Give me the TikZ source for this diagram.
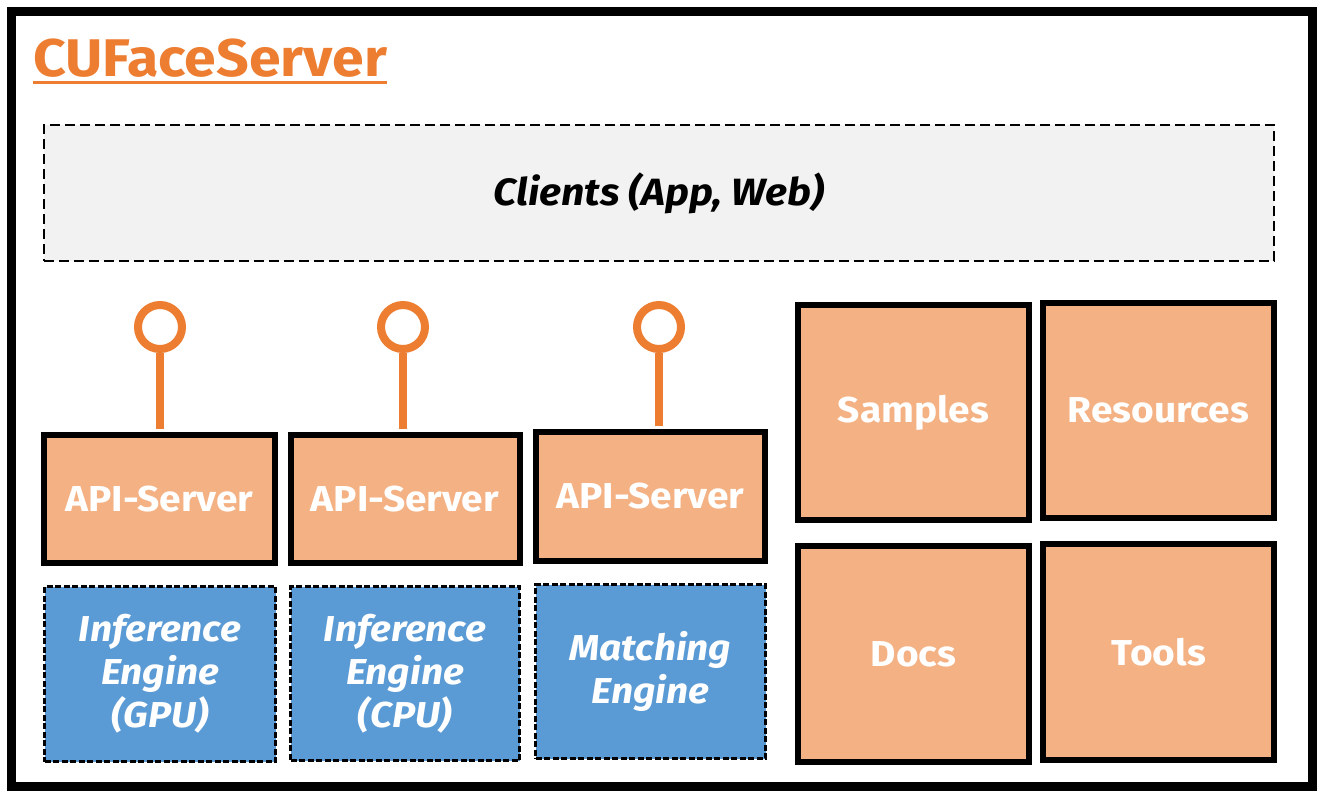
\documentclass[tikz,border=0pt]{standalone}
\usepackage{fontspec}
\setmainfont{Fira Sans}[FakeStretch=1.08]
\definecolor{accent}{HTML}{ED7D31}
\definecolor{lightorange}{HTML}{F4B183}
\definecolor{blueeng}{HTML}{5B9BD5}
\definecolor{clientgray}{HTML}{F2F2F2}
\begin{document}
\begin{tikzpicture}[x=1pt,y=-1pt,
  solidbox/.style={draw=black, line width=6pt, fill=lightorange, inner sep=0pt,
    text=white, font=\fontsize{36}{42}\selectfont\bfseries, align=center},
  engbox/.style={draw=black, line width=2.6pt, dash pattern=on 6pt off 2.5pt, fill=blueeng, inner sep=0pt,
    text=white, font=\fontsize{36}{43}\selectfont\bfseries\itshape, align=center},
  pin/.style={circle, draw=accent, line width=8pt, fill=white, minimum size=44pt, inner sep=0pt},
  stem/.style={draw=accent, line width=8pt}
]
\useasboundingbox (0,0) rectangle (1327,803);
\fill[white] (0,0) rectangle (1327,803);
\draw[line width=9pt] (11.5,11.5) rectangle (1312.5,786);

% title
\node[anchor=base west, inner sep=0pt, text=accent, font=\fontsize{53}{60}\selectfont\bfseries] (title) at (33,76) {CUFaceServer};
\draw[accent, line width=3pt] (title.base west) ++(0,6) coordinate (ul1) -- (title.base east |- ul1) coordinate (ul2);

% clients
\node[draw=black, line width=2.6pt, dash pattern=on 10pt off 5pt, fill=clientgray, minimum width=1230pt, minimum height=136pt, inner sep=0pt,
  font=\fontsize{38}{44}\selectfont\bfseries\itshape] (clients) at (659,193) {Clients (App, Web)};

% API servers
\node[solidbox, minimum width=231pt, minimum height=128pt] (api1) at (159.5,499) {API-Server};
\node[solidbox, minimum width=229pt, minimum height=128pt] (api2) at (405,499) {API-Server};
\node[solidbox, minimum width=229pt, minimum height=129pt] (api3) at (650.5,496.5) {API-Server};

% pins
\node[pin] (p1) at (160,327) {};
\node[pin] (p2) at (403,327) {};
\node[pin] (p3) at (659,327) {};
\draw[stem, shorten >=3pt] (p1.south) -- (p1.south |- api1.north);
\draw[stem, shorten >=3pt] (p2.south) -- (p2.south |- api2.north);
\draw[stem, shorten >=3pt] (p3.south) -- (p3.south |- api3.north);

% engines
\node[engbox, minimum width=231pt, minimum height=175pt] (e1) at (160,674) {Inference\\Engine\\(GPU)};
\node[engbox, minimum width=229pt, minimum height=174pt] (e2) at (405,673.5) {Inference\\Engine\\(CPU)};
\node[engbox, minimum width=230pt, minimum height=174pt] (e3) at (650.5,671.5) {Matching\\Engine};

% right boxes
\node[solidbox, minimum width=231pt, minimum height=215pt] (samples) at (913.5,412.5) {Samples};
\node[solidbox, minimum width=231pt, minimum height=215pt] (resources) at (1158.5,410.5) {Resources};
\node[solidbox, minimum width=231pt, minimum height=216pt] (docs) at (913.5,654) {Docs};
\node[solidbox, minimum width=231pt, minimum height=216pt] (tools) at (1158.5,652) {Tools};
\end{tikzpicture}
\end{document}
